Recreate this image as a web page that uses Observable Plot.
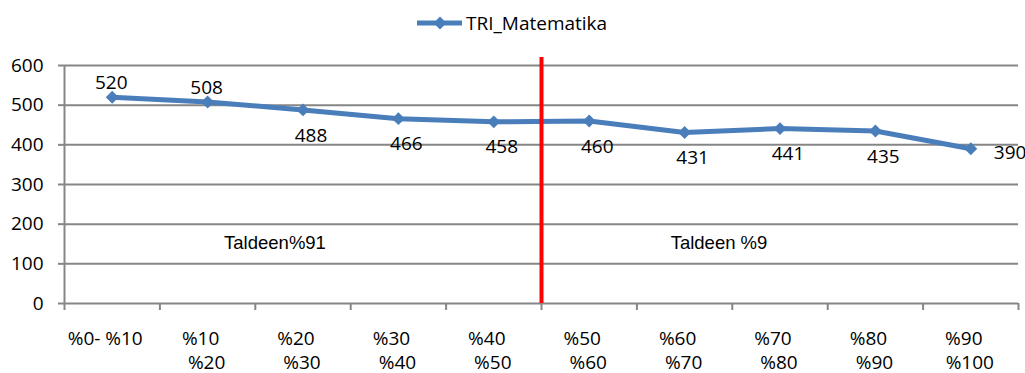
<!DOCTYPE html>
<html><head><meta charset="utf-8">
<script src="https://cdn.jsdelivr.net/npm/d3@7"></script>
<script src="https://cdn.jsdelivr.net/npm/@observablehq/plot@0.6"></script>
<style>
body{margin:0;background:#fff;width:1025px;height:373px;overflow:hidden;font-family:"Open Sans",sans-serif;color:#000}
#legend{height:44px;position:relative}
#legend .item{position:absolute;left:415px;top:0;height:46px;display:flex;align-items:center;font-size:19px}
#chart svg{display:block}
</style></head><body>
<div id="legend"></div>
<div id="chart"></div>
<script>
// ---- data ----
const categoriesLine1 = ["%0- %10","%10","%20","%30","%40","%50","%60","%70","%80","%90"];
const categoriesLine2 = ["","%20","%30","%40","%50","%60","%70","%80","%90","%100"];
const seriesName = "TRI_Matematika";
const values = [520,508,488,466,458,460,431,441,435,390];
const yTicks = [0,100,200,300,400,500,600];
const groupLabels = ["Taldeen%91","Taldeen %9"];
const groupSplit = 5; // first category index of the second group

// ---- build ----
const n = values.length;
const blue = "#4a7ebb";
const grid = "#868686";
const data = values.map((v,i)=>({i, x:i+0.5, v}));
const groups = [
  {label:groupLabels[0], mid:groupSplit/2},
  {label:groupLabels[1], mid:(groupSplit+n)/2}
];

// legend
const lg = document.getElementById("legend");
lg.innerHTML = `<div class="item"><svg width="50" height="16" style="display:block">
<line x1="2" y1="8" x2="47" y2="8" stroke="${blue}" stroke-width="5"/>
<path d="M25,1.5L31.5,8L25,14.5L18.5,8Z" fill="${blue}"/></svg>
<span style="margin-left:1px">${seriesName}</span></div>`;

const chart = Plot.plot({
  width:1025, height:329,
  marginTop:21, marginBottom:70, marginLeft:64, marginRight:7,
  style:{fontFamily:"Open Sans", fontSize:"19px", color:"#000", background:"#fff", overflow:"visible"},
  x:{type:"linear", domain:[0,n], axis:null},
  y:{domain:[0,600], axis:null},
  marks:[
    Plot.ruleY(yTicks, {stroke:grid, strokeWidth:2}),
    Plot.ruleX([0], {stroke:grid, strokeWidth:2}),
    Plot.axisY({ticks:yTicks, label:null, tickSize:6, tickPadding:15, stroke:grid, strokeWidth:2, fill:"#000", fontSize:19}),
    Plot.axisX({ticks:d3.range(n+1), label:null, tickSize:7, tickFormat:()=>"", stroke:grid, strokeWidth:2}),
    Plot.text(data, {x:"x", text:d=>categoriesLine1[d.i], frameAnchor:"bottom", lineAnchor:"top", dy:28, dx:-7, fill:"#000"}),
    Plot.text(data, {x:"x", text:d=>categoriesLine2[d.i], frameAnchor:"bottom", lineAnchor:"top", dy:52, dx:-1, fill:"#000"}),
    Plot.text([groups[0]], {x:"mid", text:"label", frameAnchor:"middle", dy:59, dx:-28, fontFamily:"Liberation Sans", fontSize:18.5, fill:"#000"}),
    Plot.text([groups[1]], {x:"mid", text:"label", frameAnchor:"middle", dy:59, dx:-61, fontFamily:"Liberation Sans", fontSize:18.5, fill:"#000"}),
    Plot.line(data, {x:"x", y:"v", stroke:blue, strokeWidth:5, strokeLinejoin:"round"}),
    Plot.ruleX([groupSplit], {stroke:"#ff0000", strokeWidth:4, insetTop:-8}),
    Plot.dot(data, {x:"x", y:"v", symbol:"diamond2", r:5.8, fill:blue, stroke:null}),
    Plot.text(data.filter(d=>d.i<2), {x:"x", y:"v", text:d=>String(d.v), dy:-14.5, dx:-1, fill:"#000"}),
    Plot.text(data.filter(d=>d.i>=2 && d.i<n-1), {x:"x", y:"v", text:d=>String(d.v), dy:25.5, dx:8, fill:"#000"}),
    Plot.text(data.filter(d=>d.i===n-1), {x:"x", y:"v", text:d=>String(d.v), dy:4, dx:23, textAnchor:"start", fill:"#000"})
  ]
});
document.getElementById("chart").appendChild(chart);
</script>
</body></html>
